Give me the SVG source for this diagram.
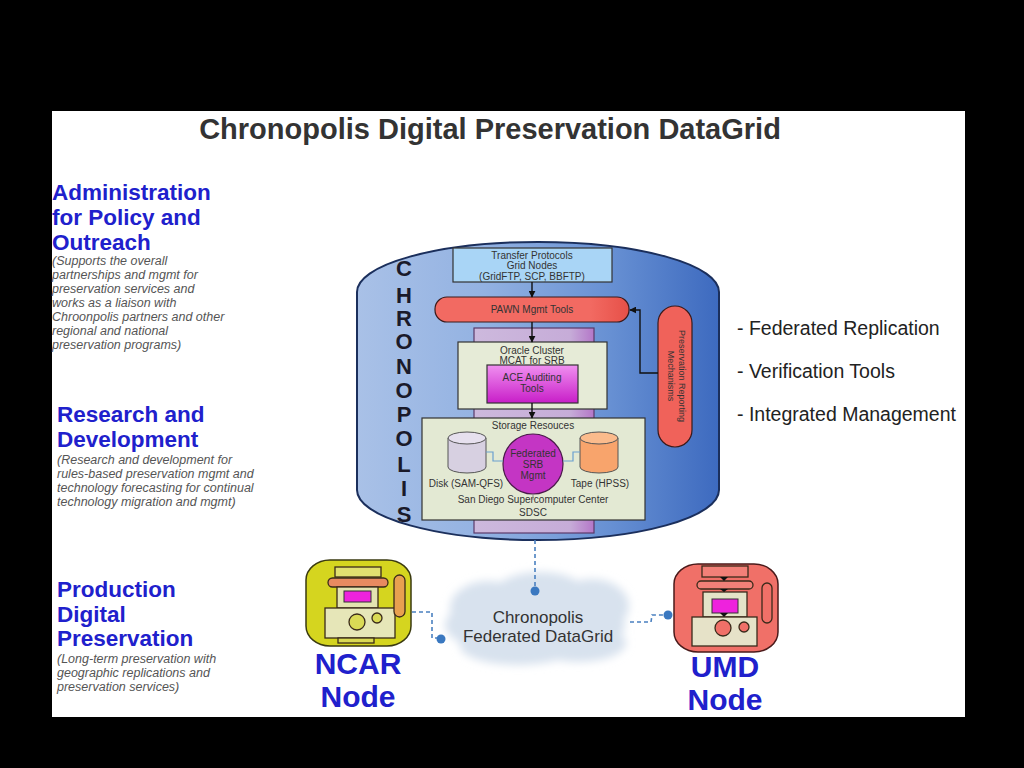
<svg xmlns="http://www.w3.org/2000/svg" width="1024" height="768" viewBox="0 0 1024 768">
<defs>
  <linearGradient id="cylG" x1="0" y1="0" x2="1" y2="0">
    <stop offset="0" stop-color="#a9c1e7"/>
    <stop offset="0.35" stop-color="#93b2e2"/>
    <stop offset="0.7" stop-color="#6790d3"/>
    <stop offset="1" stop-color="#3d6abf"/>
  </linearGradient>
  <linearGradient id="redG" x1="0" y1="0" x2="1" y2="0">
    <stop offset="0" stop-color="#f26a62"/>
    <stop offset="0.8" stop-color="#f26a62"/>
    <stop offset="1" stop-color="#e65048"/>
  </linearGradient>
  <linearGradient id="magG" x1="0" y1="0" x2="0" y2="1">
    <stop offset="0" stop-color="#f090f0"/>
    <stop offset="1" stop-color="#c81ec8"/>
  </linearGradient>
  <linearGradient id="purG" x1="0" y1="0" x2="1" y2="0">
    <stop offset="0" stop-color="#cdb9dd"/>
    <stop offset="0.8" stop-color="#c6acd8"/>
    <stop offset="1" stop-color="#b477c8"/>
  </linearGradient>
  <filter id="blur" x="-20%" y="-20%" width="140%" height="140%">
    <feGaussianBlur stdDeviation="4"/>
  </filter>
  <marker id="arr" viewBox="0 0 10 10" refX="9" refY="5" markerWidth="5" markerHeight="5" orient="auto">
    <path d="M0,0 L10,5 L0,10 Z" fill="#111"/>
  </marker>
  <style>
    .sans{font-family:"Liberation Sans",Arial,sans-serif}
    .head{font-family:"Liberation Sans",Arial,sans-serif;font-weight:bold;font-size:22.5px;fill:#2020cc}
    .desc{font-family:"Liberation Sans",Arial,sans-serif;font-style:italic;font-size:12.5px;fill:#555}
    .small{font-family:"Liberation Sans",Arial,sans-serif;font-size:10px;fill:#333;text-anchor:middle}
    .bul{font-family:"Liberation Sans",Arial,sans-serif;font-size:19.5px;fill:#222}
    .vl{font-family:"Liberation Sans",Arial,sans-serif;font-weight:bold;font-size:22px;fill:#1a1a2a;text-anchor:middle}
    .nodel{font-family:"Liberation Sans",Arial,sans-serif;font-weight:bold;font-size:30px;fill:#2020cc;text-anchor:middle}
    .box{stroke:#333;stroke-width:1.2}
    .dash{fill:none;stroke:#4a80c0;stroke-width:1.6;stroke-dasharray:4 3}
    .dot{fill:#3a78c0}
    .arrow{stroke:#111;stroke-width:1.4;fill:none;marker-end:url(#arr)}
    .thin{fill:none;stroke:#6aa0d0;stroke-width:1.2}
    .ol{stroke:#3a2a1a;stroke-width:1.3}
  </style>
</defs>

<rect x="0" y="0" width="1024" height="768" fill="#000"/>
<rect x="52" y="111" width="913" height="606" fill="#fff"/>

<text x="490" y="139" class="sans" font-size="29" font-weight="bold" fill="#333" text-anchor="middle">Chronopolis Digital Preservation DataGrid</text>

<g id="admin">
  <text class="head" x="52" y="200">Administration</text>
  <text class="head" x="52" y="225">for Policy and</text>
  <text class="head" x="52" y="250">Outreach</text>
  <text class="desc" x="52" y="265">(Supports the overall</text>
  <text class="desc" x="52" y="279">partnerships and mgmt for</text>
  <text class="desc" x="52" y="293">preservation services and</text>
  <text class="desc" x="52" y="307">works as a liaison with</text>
  <text class="desc" x="52" y="321">Chroonpolis partners and other</text>
  <text class="desc" x="52" y="335">regional and national</text>
  <text class="desc" x="52" y="349">preservation programs)</text>
</g>

<g id="research">
  <text class="head" x="57" y="422">Research and</text>
  <text class="head" x="57" y="447">Development</text>
  <text class="desc" x="57" y="464">(Research and development for</text>
  <text class="desc" x="57" y="478">rules-based preservation mgmt and</text>
  <text class="desc" x="57" y="492">technology forecasting for continual</text>
  <text class="desc" x="57" y="506">technology migration and mgmt)</text>
</g>

<g id="production">
  <text class="head" x="57" y="597">Production</text>
  <text class="head" x="57" y="622">Digital</text>
  <text class="head" x="57" y="646">Preservation</text>
  <text class="desc" x="57" y="663">(Long-term preservation with</text>
  <text class="desc" x="57" y="677">geographic replications and</text>
  <text class="desc" x="57" y="691">preservation services)</text>
</g>

<g id="features">
  <text class="bul" x="737" y="335">- Federated Replication</text>
  <text class="bul" x="737" y="378">- Verification Tools</text>
  <text class="bul" x="737" y="421">- Integrated Management</text>
</g>

<g id="cloud">
  <g filter="url(#blur)" fill="#d8e2ee">
    <ellipse cx="535" cy="625" rx="90" ry="32"/>
    <ellipse cx="488" cy="608" rx="38" ry="27"/>
    <ellipse cx="540" cy="596" rx="48" ry="24"/>
    <ellipse cx="592" cy="606" rx="37" ry="27"/>
    <ellipse cx="518" cy="646" rx="58" ry="19"/>
    <ellipse cx="578" cy="643" rx="48" ry="19"/>
  </g>
  <text class="sans" x="538" y="623" font-size="17" fill="#333" text-anchor="middle">Chronopolis</text>
  <text class="sans" x="538" y="642" font-size="17" fill="#333" text-anchor="middle">Federated DataGrid</text>
</g>

<g id="sdsc">
  <path d="M357 292 A181 50 0 0 1 719 292 L719 490 A181 50 0 0 1 357 490 Z" fill="url(#cylG)" stroke="#1b2f5c" stroke-width="2"/>
  <g id="chronopolis-label">
    <text class="vl" x="404" y="276">C</text>
    <text class="vl" x="404" y="303">H</text>
    <text class="vl" x="404" y="326">R</text>
    <text class="vl" x="404" y="349">O</text>
    <text class="vl" x="404" y="374">N</text>
    <text class="vl" x="404" y="398">O</text>
    <text class="vl" x="404" y="422">P</text>
    <text class="vl" x="404" y="446">O</text>
    <text class="vl" x="404" y="472">L</text>
    <text class="vl" x="404" y="496">I</text>
    <text class="vl" x="404" y="522">S</text>
  </g>
  <rect id="column" x="474" y="328" width="120" height="205" fill="url(#purG)" stroke="#5a3a6a" stroke-width="1.2"/>
</g>

<g id="transfer">
  <rect class="box" x="453" y="248" width="159" height="34" fill="#a9d5f6"/>
  <text class="small" x="532" y="259">Transfer Protocols</text>
  <text class="small" x="532" y="269">Grid Nodes</text>
  <text class="small" x="532" y="280">(GridFTP, SCP, BBFTP)</text>
</g>

<g id="pawn">
  <rect x="435" y="297" width="194" height="25" rx="12" fill="url(#redG)" stroke="#3a1a1a" stroke-width="1.2"/>
  <text class="small" x="532" y="313">PAWN Mgmt Tools</text>
</g>

<g id="oracle">
  <rect class="box" x="458" y="342" width="149" height="67" fill="#e6ebd7"/>
  <text class="small" x="532" y="354">Oracle Cluster</text>
  <text class="small" x="532" y="364">MCAT for SRB</text>
</g>

<g id="ace">
  <rect class="box" x="487" y="365" width="91" height="38" fill="url(#magG)"/>
  <text class="small" x="532" y="381" fill="#6a206a">ACE Auditing</text>
  <text class="small" x="532" y="392" fill="#6a206a">Tools</text>
</g>

<g id="storage">
  <rect class="box" x="422" y="418" width="223" height="102" fill="#e3e9d3"/>
  <text class="small" x="533" y="429">Storage Resouces</text>
  <text class="small" x="533" y="503">San Diego Supercomputer Center</text>
  <text class="small" x="533" y="516">SDSC</text>
</g>

<g id="disk">
  <path d="M448 438 L448 467 A19 6 0 0 0 486 467 L486 438 Z" fill="#d7d0e1" stroke="#555" stroke-width="1"/>
  <ellipse cx="467" cy="438" rx="19" ry="6" fill="#e6e0ee" stroke="#555" stroke-width="1"/>
  <text class="small" x="466" y="487">Disk (SAM-QFS)</text>
</g>

<g id="tape">
  <path d="M580 438 L580 467 A19 6 0 0 0 618 467 L618 438 Z" fill="#f8a46c" stroke="#555" stroke-width="1"/>
  <ellipse cx="599" cy="438" rx="19" ry="6" fill="#fbbb8c" stroke="#555" stroke-width="1"/>
  <text class="small" x="600" y="487">Tape (HPSS)</text>
</g>

<g id="srb">
  <circle cx="533" cy="464" r="30" fill="#c435c4" stroke="#4a1a4a" stroke-width="1.2"/>
  <text class="small" x="533" y="457" fill="#7a2a7a">Federated</text>
  <text class="small" x="533" y="468" fill="#7a2a7a">SRB</text>
  <text class="small" x="533" y="479" fill="#7a2a7a">Mgmt</text>
</g>

<g id="reporting">
  <rect x="658" y="306" width="34" height="141" rx="17" fill="#f0625a" stroke="#3a1a1a" stroke-width="1.2"/>
  <text class="sans" font-size="9" fill="#333" text-anchor="middle" transform="translate(675 376) rotate(90)"><tspan x="0" y="-4">Preservation Reporting</tspan><tspan x="0" y="7">Mechanisms</tspan></text>
</g>

<g id="ncar">
  <rect x="306" y="560" width="105" height="86" rx="24" ry="20" fill="#d5d51f" stroke="#3a3a10" stroke-width="1.5"/>
  <rect class="ol" x="335" y="567" width="46" height="10" fill="#e1e070"/>
  <rect class="ol" x="328" y="578" width="60" height="9" rx="4.5" fill="#e88a60"/>
  <rect class="ol" x="337" y="587" width="41" height="21" fill="#e3e3b0"/>
  <rect x="344" y="591" width="27" height="11" fill="#ee22dd" stroke="#333" stroke-width="1"/>
  <rect class="ol" x="325" y="608" width="70" height="30" fill="#e6e6b8"/>
  <circle class="ol" cx="357" cy="622" r="8" fill="#dada55"/>
  <circle class="ol" cx="377" cy="618" r="5" fill="#dada55"/>
  <rect class="ol" x="338" y="638" width="36" height="5" fill="#dada55"/>
  <rect class="ol" x="394" y="575" width="11" height="42" rx="5.5" fill="#e8a050"/>
  <text class="nodel" x="358" y="674">NCAR</text>
  <text class="nodel" x="358" y="707">Node</text>
</g>

<g id="umd">
  <rect x="674" y="564" width="104" height="88" rx="24" ry="20" fill="#f07068" stroke="#4a1a1a" stroke-width="1.5"/>
  <rect class="ol" x="702" y="566" width="46" height="11" fill="#f28078"/>
  <rect class="ol" x="697" y="581" width="56" height="8" rx="4" fill="#f28078"/>
  <rect class="ol" x="703" y="592" width="44" height="25" fill="#e4e3c8"/>
  <rect x="712" y="599" width="26" height="14" fill="#ee22dd" stroke="#333" stroke-width="1"/>
  <rect class="ol" x="692" y="617" width="65" height="29" fill="#e6e2c8"/>
  <circle class="ol" cx="723" cy="628" r="8" fill="#f07068"/>
  <circle class="ol" cx="744" cy="627" r="5" fill="#f07068"/>
  <rect class="ol" x="762" y="583" width="10" height="40" rx="5" fill="#f07068"/>
  <path d="M720 577 L728 577 L724 581 Z M720 589 L728 589 L724 592 Z M720 613 L728 613 L724 617 Z" fill="#111"/>
  <text class="nodel" x="725" y="677">UMD</text>
  <text class="nodel" x="725" y="710">Node</text>
</g>

<g id="connectors">
  <line class="arrow" x1="532" y1="282" x2="532" y2="297"/>
  <line class="arrow" x1="532" y1="322" x2="532" y2="342"/>
  <line class="arrow" x1="532" y1="403" x2="532" y2="418"/>
  <polyline class="arrow" points="658,373 640,373 640,310 630,310"/>
  <polyline class="thin" points="486,452 493,452 493,461 503,461"/>
  <polyline class="thin" points="580,452 573,452 573,461 563,461"/>
  <line x1="533" y1="494" x2="533" y2="500" stroke="#888" stroke-width="1"/>
  <line class="dash" x1="535" y1="540" x2="535" y2="588"/>
  <circle class="dot" cx="535" cy="591" r="4.5"/>
  <polyline class="dash" points="412,612 432,612 432,638 438,638"/>
  <circle class="dot" cx="441" cy="639" r="4.5"/>
  <polyline class="dash" points="630,622 651,622 652,615 664,615"/>
  <circle class="dot" cx="668" cy="615" r="4.5"/>
</g>
</svg>
